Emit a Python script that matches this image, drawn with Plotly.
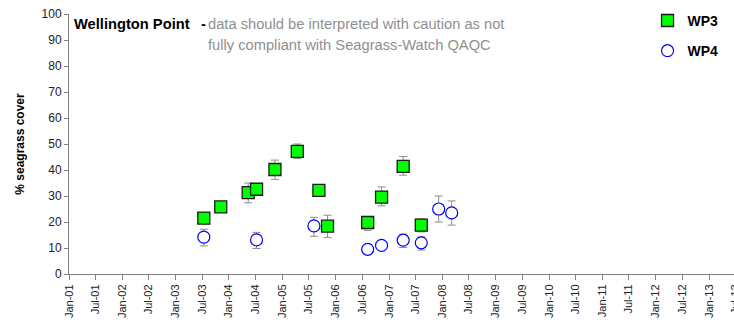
import plotly.graph_objects as go

# Seagrass cover monitoring at Wellington Point (sites WP3 and WP4)
wp3_dates = ["2003-07-13", "2003-11-06", "2004-05-12", "2004-07-08", "2004-11-11",
             "2005-04-13", "2005-09-08", "2005-11-06", "2006-08-08", "2006-11-11",
             "2007-04-08", "2007-08-10"]
wp3_cover = [21.5, 25.8, 31.3, 32.6, 40.2, 47.2, 32.2, 18.4, 19.8, 29.6, 41.4, 18.8]
wp3_se_plus = [1.5, 1.2, 3.7, 1.5, 3.6, 2.8, 1.2, 4.2, 2.2, 3.9, 3.8, 2.4]
wp3_se_minus = [1.5, 1.2, 3.9, 1.5, 3.8, 2.8, 1.2, 4.4, 3.0, 3.4, 3.4, 2.6]

wp4_dates = ["2003-07-13", "2004-07-08", "2005-08-05", "2006-08-08", "2006-11-11",
             "2007-04-08", "2007-08-10", "2007-12-07", "2008-03-05"]
wp4_cover = [14.2, 13.1, 18.5, 9.5, 11.0, 13.0, 12.0, 25.0, 23.5]
wp4_se_plus = [3.0, 2.9, 3.3, 1.0, 1.0, 2.3, 2.3, 5.0, 4.6]
wp4_se_minus = [3.4, 3.3, 4.0, 1.0, 1.0, 2.8, 2.8, 5.0, 4.7]

FONT = "Liberation Sans, Arial, sans-serif"
ERR_COLOR = "#8c8c8c"
NOTE_SIZE = 14.7

fig = go.Figure()

fig.add_trace(go.Scatter(
    x=wp3_dates, y=wp3_cover, mode="markers", name="WP3", legendgroup="wp3",
    marker=dict(symbol="square", size=12, color="#00ff00",
                line=dict(color="#1a1a1a", width=1.3)),
    error_y=dict(type="data", array=wp3_se_plus, arrayminus=wp3_se_minus,
                 color=ERR_COLOR, thickness=1, width=4),
))

fig.add_trace(go.Scatter(
    x=wp4_dates, y=wp4_cover, mode="markers", name="WP4", legendgroup="wp4",
    marker=dict(symbol="circle", size=12, color="white",
                line=dict(color="#0000ff", width=1.2)),
    error_y=dict(type="data", array=wp4_se_plus, arrayminus=wp4_se_minus,
                 color=ERR_COLOR, thickness=1, width=4),
))

fig.update_layout(
    width=734, height=323,
    margin=dict(l=69, r=0, t=14, b=49),
    paper_bgcolor="white", plot_bgcolor="white",
    font=dict(family=FONT, size=12, color="#222222"),
    showlegend=True,
    legend=dict(x=0.87, y=1.035, xanchor="left", yanchor="top",
                font=dict(family=FONT, size=14, color="black", weight="bold"),
                bgcolor="rgba(0,0,0,0)", tracegroupgap=9, itemwidth=30),
    xaxis=dict(
        type="date", range=["2001-01-01", "2013-06-20"],
        tick0="2001-01-01", dtick="M6", tickformat="%b-%y", tickangle=-90,
        ticks="outside", ticklen=5, tickcolor="#808080",
        showline=True, linecolor="#808080", linewidth=1,
        showgrid=False, zeroline=False,
        tickfont=dict(family=FONT, size=11, color="#222222"),
    ),
    yaxis=dict(
        range=[0, 100], dtick=10, ticks="outside", ticklen=4, tickcolor="#808080",
        showline=True, linecolor="#808080", linewidth=1,
        showgrid=False, zeroline=False,
        tickfont=dict(family=FONT, size=12, color="#222222"),
        title=dict(text="<b>% seagrass cover</b>", standoff=14,
                   font=dict(family=FONT, size=12, color="black")),
    ),
)

# Site heading and data-quality note
fig.add_annotation(
    xref="paper", yref="paper", x=0.005, y=0.962, xanchor="left", yanchor="middle",
    text="<b>Wellington Point</b>", showarrow=False,
    font=dict(family=FONT, size=NOTE_SIZE, color="black"),
)
fig.add_annotation(
    xref="paper", yref="paper", x=0.195, y=0.962, xanchor="left", yanchor="middle",
    text="<b>-</b>", showarrow=False,
    font=dict(family=FONT, size=NOTE_SIZE, color="black"),
)
fig.add_annotation(
    xref="paper", yref="paper", x=0.206, y=0.962, xanchor="left", yanchor="middle",
    text="data should be interpreted with caution as not", showarrow=False,
    font=dict(family=FONT, size=NOTE_SIZE, color="#8f8f8f"),
)
fig.add_annotation(
    xref="paper", yref="paper", x=0.206, y=0.882, xanchor="left", yanchor="middle",
    text="fully compliant with Seagrass-Watch QAQC", showarrow=False,
    font=dict(family=FONT, size=NOTE_SIZE, color="#8f8f8f"),
)

# Final half-year label that runs past the right edge of the axis
fig.add_annotation(
    xref="paper", yref="paper", x=1.0015, y=-0.032, xanchor="center", yanchor="top",
    text="Jul-13", textangle=-90, showarrow=False,
    font=dict(family=FONT, size=11, color="#222222"),
)

fig.write_html("out.html")
